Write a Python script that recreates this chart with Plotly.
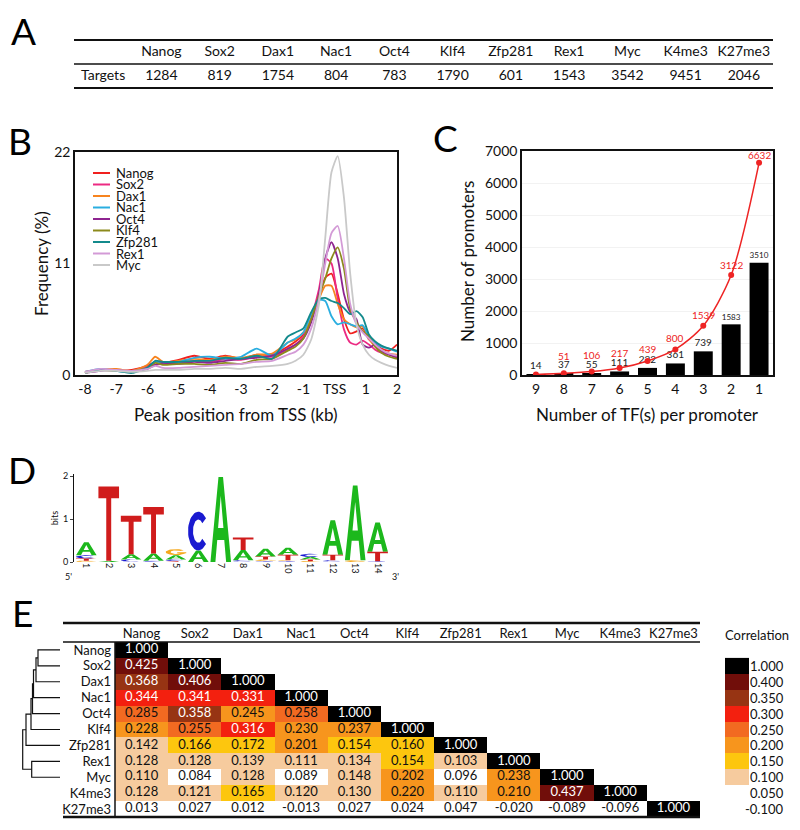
import plotly.graph_objects as go
import numpy as np

# the page body keeps the browser's default 8px margin, so the figure is drawn
# 8px in from the window corner; positions below are given in window pixels
PAGE_PAD = 8
W, H = 800 - 2 * PAGE_PAD, 830 - 2 * PAGE_PAD
FONT = 'Lato, Open Sans, sans-serif'


def X(px):
    return (px - PAGE_PAD) / W


def Y(py):
    return 1 - (py - PAGE_PAD) / H


# ── A: number of targets ────────────────────────────────────────────────────
factors = ['Nanog', 'Sox2', 'Dax1', 'Nac1', 'Oct4', 'Klf4', 'Zfp281', 'Rex1',
           'Myc', 'K4me3', 'K27me3']
targets = [1284, 819, 1754, 804, 783, 1790, 601, 1543, 3542, 9451, 2046]

# ── B: peak position profiles ───────────────────────────────────────────────
tss_x = [-8, -7.5, -7, -6.5, -6, -5.75, -5.5, -5, -4.5, -4, -3.5, -3, -2.5, -2,
         -1.5, -1.25, -1, -0.75, -0.5, -0.3, -0.1, 0.1, 0.3, 0.5, 0.7, 0.9,
         1.1, 1.3, 1.5, 1.75, 2]
freq_nanog = [0.2, 0.5, 0.4, 0.5, 0.9, 1.3, 1.2, 1.5, 1.9, 1.6, 1.9, 1.6, 2.0, 2.0,
              2.8, 3.3, 4.0, 5.5, 7.8, 9.6, 10.0, 8.0, 5.5, 4.1, 4.3, 4.6,
              3.5, 3.0, 2.6, 2.4, 3.0]
freq_sox2 = [0.3, 0.5, 0.5, 0.4, 0.8, 1.0, 1.1, 1.2, 1.4, 1.3, 1.6, 1.5, 1.8, 1.8,
             2.5, 3.0, 3.8, 5.6, 8.5, 11.5, 11.0, 7.5, 4.5, 3.2, 3.0, 3.4,
             3.0, 2.5, 2.2, 2.0, 1.8]
freq_dax1 = [0.2, 0.5, 0.6, 0.4, 1.0, 1.8, 1.3, 1.4, 1.6, 1.5, 1.8, 1.7, 2.0, 2.1,
             3.2, 3.5, 4.2, 5.5, 7.5, 8.8, 8.8, 7.0, 5.5, 5.0, 4.7, 4.8,
             3.6, 2.8, 2.4, 2.1, 2.0]
freq_nac1 = [0.3, 0.6, 0.4, 0.3, 0.7, 1.3, 1.2, 1.3, 1.7, 1.8, 1.6, 1.8, 2.6, 1.9,
             3.2, 3.6, 4.2, 6.0, 7.4, 7.3, 5.8, 5.0, 5.2, 5.0, 4.8, 4.9,
             3.8, 3.2, 2.8, 2.6, 2.3]
freq_oct4 = [0.2, 0.4, 0.5, 0.3, 0.6, 1.0, 1.2, 1.1, 1.3, 1.2, 1.4, 1.6, 1.7, 1.9,
             2.6, 3.0, 3.6, 5.2, 8.0, 11.5, 13.1, 11.5, 8.0, 6.2, 5.5, 3.0,
             2.7, 3.0, 2.4, 2.0, 1.7]
freq_klf4 = [0.3, 0.5, 0.4, 0.4, 0.7, 1.2, 1.0, 1.1, 1.1, 1.0, 1.2, 1.1, 1.5, 1.6,
             2.4, 2.8, 3.6, 5.5, 7.8, 9.5, 11.5, 12.6, 10.5, 6.5, 5.2, 4.3,
             3.8, 2.8, 2.2, 1.8, 1.6]
freq_zfp281 = [0.2, 0.5, 0.4, 0.2, 0.7, 1.4, 1.3, 1.3, 1.4, 1.4, 1.7, 1.6, 1.9, 1.6,
               3.8, 4.2, 4.6, 6.2, 7.5, 7.6, 7.3, 7.1, 6.6, 6.0, 6.3, 5.7,
               4.0, 3.3, 2.9, 2.6, 2.4]
freq_rex1 = [0.3, 0.6, 0.5, 0.4, 0.6, 0.9, 0.7, 0.7, 0.8, 0.9, 1.0, 1.1, 1.3, 1.4,
             2.0, 2.3, 3.0, 4.6, 7.5, 11.0, 14.0, 14.7, 11.5, 7.0, 5.0, 4.2,
             3.6, 3.0, 2.5, 2.1, 1.9]
freq_myc = [0.2, 0.4, 0.4, 0.3, 0.4, 0.5, 0.5, 0.5, 0.6, 0.6, 0.7, 0.6, 0.8, 0.9,
            1.1, 1.4, 2.0, 3.5, 7.0, 13.5, 20.0, 21.6, 17.5, 10.0, 5.0, 3.0,
            2.0, 1.5, 1.2, 0.9, 0.7]
profile_names = ['Nanog', 'Sox2', 'Dax1', 'Nac1', 'Oct4', 'Klf4', 'Zfp281', 'Rex1', 'Myc']
profiles = [freq_nanog, freq_sox2, freq_dax1, freq_nac1, freq_oct4, freq_klf4,
            freq_zfp281, freq_rex1, freq_myc]
profile_colors = ['#f0201e', '#ec2a82', '#f7841f', '#2aaee0', '#8e2490', '#8c8a1c',
                  '#138a8c', '#d39ad6', '#c9c9c9']

# ── C: promoters per TF count ───────────────────────────────────────────────
tf_counts = ['9', '8', '7', '6', '5', '4', '3', '2', '1']
promoters_exact = [14, 37, 55, 111, 222, 361, 739, 1583, 3510]
promoters_cumul = [14, 51, 106, 217, 439, 800, 1539, 3122, 6632]

# ── D: motif logo (bits per base) ───────────────────────────────────────────
motif_pos = list(range(1, 15))
bits_A = [0.30, 0.03, 0.12, 0.17, 0.10, 0.27, 1.98, 0.24, 0.18, 0.16, 0.06, 0.80, 1.74, 0.68]
bits_C = [0.08, 0.00, 0.05, 0.02, 0.04, 0.90, 0.00, 0.03, 0.02, 0.02, 0.07, 0.03, 0.00, 0.02]
bits_G = [0.03, 0.00, 0.01, 0.01, 0.14, 0.00, 0.00, 0.01, 0.04, 0.02, 0.02, 0.01, 0.04, 0.00]
bits_T = [0.05, 1.73, 0.90, 1.08, 0.02, 0.00, 0.00, 0.29, 0.07, 0.13, 0.04, 0.13, 0.00, 0.22]
base_colors = {'A': '#1cb81c', 'C': '#1a1ad0', 'G': '#f5a81c', 'T': '#d01c1c'}

# ── E: correlation matrix (lower triangle) ──────────────────────────────────
corr_rows = [
    [1.000],
    [0.425, 1.000],
    [0.368, 0.406, 1.000],
    [0.344, 0.341, 0.331, 1.000],
    [0.285, 0.358, 0.245, 0.258, 1.000],
    [0.228, 0.255, 0.316, 0.230, 0.237, 1.000],
    [0.142, 0.166, 0.172, 0.201, 0.154, 0.160, 1.000],
    [0.128, 0.128, 0.139, 0.111, 0.134, 0.154, 0.103, 1.000],
    [0.110, 0.084, 0.128, 0.089, 0.148, 0.202, 0.096, 0.238, 1.000],
    [0.128, 0.121, 0.165, 0.120, 0.130, 0.220, 0.110, 0.210, 0.437, 1.000],
    [0.013, 0.027, 0.012, -0.013, 0.027, 0.024, 0.047, -0.020, -0.089, -0.096, 1.000],
]
# dendrogram merges: (cluster a, cluster b, height); leaves 0..8 = Nanog..Myc
dendro_merges = [(0, 1, 0.220), (9, 2, 0.240), (10, 3, 0.265), (11, 4, 0.275),
                 (12, 5, 0.290), (13, 6, 0.340), (7, 8, 0.283), (14, 15, 0.373)]
legend_levels = [1.000, 0.400, 0.350, 0.300, 0.250, 0.200, 0.150, 0.100, 0.050, -0.100]
level_edges = [0.10, 0.15, 0.20, 0.25, 0.30, 0.35, 0.40, 0.50]
level_colors = ['#ffffff', '#f6cb9e', '#fdc60e', '#f7951d', '#f26a21',
                '#f3200f', '#973413', '#710e0a', '#000000']

fig = go.Figure()
annotations = []
shapes = []


def label(text, px, py, size, angle=0, color='#111', xanchor='center'):
    annotations.append(dict(text=text, xref='paper', yref='paper', x=X(px), y=Y(py),
                            xanchor=xanchor, yanchor='middle', showarrow=False, textangle=angle,
                            font=dict(size=size, color=color, family=FONT)))


# ── A ──
a_cols = ['_lab'] + factors
fig.add_trace(go.Scatter(
    x=factors, y=['head'] * len(factors), text=factors, mode='text',
    textfont=dict(size=14, color='#111', family=FONT),
    xaxis='x', yaxis='y', showlegend=False, hoverinfo='skip'))
fig.add_trace(go.Scatter(
    x=a_cols, y=['row'] * len(a_cols), text=['Targets'] + [str(t) for t in targets],
    mode='text', textfont=dict(size=14, color='#111', family=FONT),
    xaxis='x', yaxis='y', showlegend=False, hoverinfo='skip'))
for py, w in [(40, 2), (64, 1.5), (88, 2)]:
    shapes.append(dict(type='line', xref='paper', yref='paper', x0=X(74), x1=X(773),
                       y0=Y(py), y1=Y(py), line=dict(color='#111', width=w)))

# ── B ──
for name, vals, col in zip(profile_names, profiles, profile_colors):
    fig.add_trace(go.Scatter(
        x=tss_x, y=vals, mode='lines', name=name,
        line=dict(color=col, width=1.8, shape='spline', smoothing=0.6),
        xaxis='x2', yaxis='y2', showlegend=False))
for i, (name, col) in enumerate(zip(profile_names, profile_colors)):
    py = 173 + i * 11.5
    shapes.append(dict(type='line', xref='paper', yref='paper', x0=X(93), x1=X(110),
                       y0=Y(py), y1=Y(py), line=dict(color=col, width=2)))
    label(name, 114, py, 13, xanchor='left')

# ── C ──
fig.add_trace(go.Bar(
    x=tf_counts, y=promoters_exact, marker=dict(color='#000', line=dict(width=0)),
    text=[str(v) for v in promoters_exact], textposition='outside',
    textfont=dict(size=10, color='#222', family=FONT), cliponaxis=False,
    xaxis='x3', yaxis='y3', showlegend=False, width=0.68))
fig.add_trace(go.Scatter(
    x=tf_counts, y=promoters_cumul, mode='lines+markers',
    line=dict(color='#ee2424', width=1.5, shape='spline', smoothing=0.8),
    marker=dict(color='#ee2424', size=6),
    xaxis='x3', yaxis='y3', showlegend=False))
red_lift = [0, 17, 17, 15, 12, 11, 11, 10, 8]
for k in range(1, len(tf_counts)):
    # category axis: annotations are placed by category index
    annotations.append(dict(text=str(promoters_cumul[k]), x=k, y=promoters_cumul[k],
                            xref='x3', yref='y3', showarrow=False,
                            yshift=red_lift[k], xanchor='center', yanchor='middle',
                            font=dict(size=10, color='#ee2424', family=FONT)))


# ── D: sequence logo glyphs (unit box outlines) ──
def glyph(letter):
    if letter == 'T':
        return [[(0, 1), (1, 1), (1, .84), (.62, .84), (.62, 0), (.38, 0), (.38, .84), (0, .84)]]
    if letter == 'A':
        return [[(0, 0), (.39, 1), (.61, 1), (1, 0), (.76, 0), (.67, .26), (.33, .26), (.24, 0)]]
    t = np.linspace(np.radians(42), np.radians(318), 40)
    if letter == 'G':
        t = np.linspace(np.radians(40), np.radians(355), 40)
    outer = [(.5 + .5 * np.cos(a), .5 + .5 * np.sin(a)) for a in t]
    inner = [(.5 + .26 * np.cos(a), .5 + .3 * np.sin(a)) for a in t[::-1]]
    paths = [outer + inner]
    if letter == 'G':
        paths.append([(.56, .32), (1, .32), (1, .5), (.56, .5)])
    return paths


letter_bits = {'A': bits_A, 'C': bits_C, 'G': bits_G, 'T': bits_T}
paths_by_base = {b: ([], []) for b in 'ACGT'}
hole_x, hole_y = [], []
for k, pos in enumerate(motif_pos):
    stack = sorted([(letter_bits[b][k], b) for b in 'ACGT' if letter_bits[b][k] > 0])
    base = 0.0
    for h, b in stack:
        xs, ys = paths_by_base[b]
        for path in glyph(b):
            for gx, gy in path + [path[0]]:
                xs.append(pos - 0.46 + 0.92 * gx)
                ys.append(base + h * gy)
            xs.append(None)
            ys.append(None)
        if b == 'A':
            for gx, gy in [(.37, .4), (.5, .78), (.63, .4), (.37, .4)]:
                hole_x.append(pos - 0.46 + 0.92 * gx)
                hole_y.append(base + h * gy)
            hole_x.append(None)
            hole_y.append(None)
        base += h
for b in 'ACGT':
    xs, ys = paths_by_base[b]
    fig.add_trace(go.Scatter(x=xs, y=ys, mode='lines', fill='toself', fillcolor=base_colors[b],
                             line=dict(width=0, color=base_colors[b]), xaxis='x4', yaxis='y4',
                             showlegend=False, hoverinfo='skip'))
fig.add_trace(go.Scatter(x=hole_x, y=hole_y, mode='lines', fill='toself', fillcolor='#ffffff',
                         line=dict(width=0, color='#ffffff'), xaxis='x4', yaxis='y4',
                         showlegend=False, hoverinfo='skip'))
label("5'", 68, 576, 9)
label("3'", 395, 576, 9)

# ── E: correlation heatmap ──
n = len(factors)
z_bin = [[None] * n for _ in range(n)]
tx_w, ty_w, tt_w, tx_b, ty_b, tt_b = [], [], [], [], [], []
for i, row in enumerate(corr_rows):
    for j, v in enumerate(row):
        b = int(np.digitize(v, level_edges))
        z_bin[i][j] = b
        if b >= 5:
            tx_w.append(j); ty_w.append(i); tt_w.append(f'{v:.3f}')
        else:
            tx_b.append(j); ty_b.append(i); tt_b.append(f'{v:.3f}')

cs = []
nl = len(level_colors)
for k, c in enumerate(level_colors):
    cs.append([k / nl, c])
    cs.append([(k + 1) / nl, c])

fig.add_trace(go.Heatmap(
    z=z_bin, x=list(range(n)), y=list(range(n)), colorscale=cs, zmin=-0.5, zmax=nl - 0.5,
    showscale=False, xaxis='x5', yaxis='y5', hoverinfo='skip'))
fig.add_trace(go.Scatter(x=tx_w, y=ty_w, text=tt_w, mode='text',
                         textfont=dict(size=13, color='#ffffff', family=FONT),
                         xaxis='x5', yaxis='y5', showlegend=False, hoverinfo='skip'))
fig.add_trace(go.Scatter(x=tx_b, y=ty_b, text=tt_b, mode='text',
                         textfont=dict(size=13, color='#111', family=FONT),
                         xaxis='x5', yaxis='y5', showlegend=False, hoverinfo='skip'))

# legend column (shares the table's rows)
leg_rows = list(range(1, 1 + len(legend_levels)))
fig.add_trace(go.Heatmap(
    z=[[int(np.digitize(v, level_edges))] for v in legend_levels], x=[0], y=leg_rows,
    colorscale=cs, zmin=-0.5, zmax=nl - 0.5, showscale=False,
    xaxis='x6', yaxis='y5', hoverinfo='skip'))
for r, v in zip(leg_rows, legend_levels):
    annotations.append(dict(text=f'{v:.3f}', xref='paper', x=X(786), yref='y5', y=r,
                            xanchor='right', yanchor='middle', showarrow=False,
                            font=dict(size=13, color='#111', family=FONT)))
label('Correlation', 757, 635, 13)

# dendrogram
node_pos = {i: float(i) for i in range(9)}
node_h = {i: 0.0 for i in range(9)}
dx, dy = [], []
for k, (a, b, h) in enumerate(dendro_merges):
    dx += [node_h[a], h, h, node_h[b], None]
    dy += [node_pos[a], node_pos[a], node_pos[b], node_pos[b], None]
    node_pos[9 + k] = (node_pos[a] + node_pos[b]) / 2
    node_h[9 + k] = h
fig.add_trace(go.Scatter(x=dx, y=dy, mode='lines', line=dict(color='#111', width=1.2),
                         xaxis='x7', yaxis='y5', showlegend=False, hoverinfo='skip'))

for py, w in [(623, 2.5), (642, 1.5), (817, 2.5)]:
    shapes.append(dict(type='line', xref='paper', yref='paper', x0=X(63), x1=X(700),
                       y0=Y(py), y1=Y(py), line=dict(color='#111', width=w)))
shapes.append(dict(type='line', xref='paper', yref='paper', x0=X(115), x1=X(115),
                   y0=Y(642), y1=Y(817), line=dict(color='#111', width=1.5)))

# panel letters and axis titles
for letter, px, py in [('A', 24, 31), ('B', 20, 140), ('C', 445, 137), ('D', 22, 469), ('E', 22, 612)]:
    label(letter, px, py, 37, color='#000')
label('Frequency (%)', 42, 264, 17, angle=-90)
label('Peak position from TSS (kb)', 236, 414, 17)
label('Number of promoters', 467, 262, 17, angle=-90)
label('Number of TF(s) per promoter', 647, 414, 17)

tick_font = dict(size=14, color='#111', family=FONT)
fig.update_layout(
    width=W, height=H, margin=dict(l=0, r=0, t=0, b=0, autoexpand=False),
    paper_bgcolor='white', plot_bgcolor='rgba(0,0,0,0)',
    font=dict(family=FONT, color='#111'),
    showlegend=False, shapes=shapes, annotations=annotations,
    bargap=0.32,
    # A
    xaxis=dict(domain=[X(74), X(773)], visible=False, type='category',
               categoryorder='array', categoryarray=a_cols, range=[-0.5, len(a_cols) - 0.5]),
    yaxis=dict(domain=[Y(88), Y(40)], visible=False, type='category',
               categoryorder='array', categoryarray=['row', 'head'], range=[-0.5, 1.5]),
    # B
    xaxis2=dict(domain=[X(75), X(397)], anchor='y2', range=[-8.32, 2.0],
                tickvals=list(range(-8, 3)),
                ticktext=['-8', '-7', '-6', '-5', '-4', '-3', '-2', '-1', 'TSS', '1', '2'],
                showline=True, mirror=True, linecolor='#111', linewidth=1.5,
                showgrid=False, zeroline=False, ticks='', tickfont=tick_font),
    yaxis2=dict(domain=[Y(375), Y(152)], anchor='x2', range=[0, 22], tickvals=[0, 11, 22],
                showline=True, mirror=True, linecolor='#111', linewidth=1.5,
                showgrid=False, zeroline=False, ticks='', tickfont=tick_font),
    # C
    xaxis3=dict(domain=[X(522), X(773)], anchor='y3', type='category', range=[-0.5, 8.5],
                showline=True, mirror=True, linecolor='#111', linewidth=1.5,
                showgrid=False, ticks='', tickfont=tick_font),
    yaxis3=dict(domain=[Y(375), Y(151)], anchor='x3', range=[0, 7000], dtick=1000,
                showline=True, mirror=True, linecolor='#111', linewidth=1.5,
                gridcolor='#f2f2f2', zeroline=False, ticks='', tickfont=tick_font),
    # D
    xaxis4=dict(domain=[X(74), X(400)], anchor='y4', range=[0.45, 15.0], tickvals=motif_pos,
                tickangle=90, tickfont=dict(size=9, color='#111', family=FONT),
                showline=False, showgrid=False, zeroline=False, ticks=''),
    yaxis4=dict(domain=[Y(562), Y(474)], anchor='x4', range=[0, 2.05], tickvals=[0, 1, 2],
                showline=True, linecolor='#111', linewidth=1, ticks='outside', ticklen=3,
                showgrid=False, zeroline=False, tickfont=dict(size=9, color='#111', family=FONT),
                title=dict(text='bits', font=dict(size=9, family=FONT), standoff=2)),
    # E
    xaxis5=dict(domain=[X(115), X(700)], anchor='y5', side='top', range=[-0.5, n - 0.5],
                tickvals=list(range(n)), ticktext=factors, showgrid=False, zeroline=False,
                showline=False, ticks='', tickfont=dict(size=13, color='#111', family=FONT)),
    yaxis5=dict(domain=[Y(817), Y(642)], anchor='x5', range=[n - 0.5, -0.5],
                tickvals=list(range(n)), ticktext=factors, showgrid=False, zeroline=False,
                showline=False, ticks='', ticklabelstandoff=3,
                tickfont=dict(size=13, color='#111', family=FONT)),
    xaxis6=dict(domain=[X(725), X(792)], anchor='y5', range=[-0.5, 2.29], visible=False),
    xaxis7=dict(domain=[X(18), X(60)], anchor='y5', range=[0.42, 0], visible=False),
)
fig.update_xaxes(automargin=False)
fig.update_yaxes(automargin=False)

fig.write_html('out.html')
